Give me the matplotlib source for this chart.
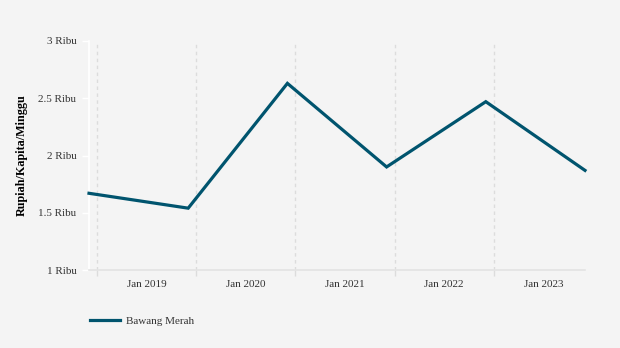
import matplotlib
matplotlib.use("Agg")
import matplotlib.pyplot as plt
from matplotlib.lines import Line2D

# Data
periods = [0, 1, 2, 3, 4, 5]
values = [1.67, 1.54, 2.63, 1.90, 2.47, 1.87]
series_name = "Bawang Merah"
x_labels = ["Jan 2019", "Jan 2020", "Jan 2021", "Jan 2022", "Jan 2023"]
y_ticks = [1, 1.5, 2, 2.5, 3]
y_tick_labels = ["1 Ribu", "1.5 Ribu", "2 Ribu", "2.5 Ribu", "3 Ribu"]
y_title = "Rupiah/Kapita/Minggu"

bg = "#f4f4f4"
line_color = "#00546e"
text_color = "#333333"
grid_color = "#dcdcdc"

plt.rcParams['font.family'] = ['Liberation Serif', 'DejaVu Serif']

fig = plt.figure(figsize=(6.2, 3.48), dpi=100, facecolor=bg)
ax = fig.add_axes([89/620, (348-270)/348, (585-89)/620, (270-41)/348])
ax.set_facecolor(bg)

ax.plot(periods, values, color=line_color, lw=2.3, solid_joinstyle='miter', zorder=3, clip_on=False)

ax.set_xlim(0, 5)
ax.set_ylim(1, 3)

# vertical dashed gridlines (tick positions)
grid_pos = [i + 0.08 for i in range(5)]
for g in grid_pos:
    ax.axvline(g, color=grid_color, lw=1, ls=(0, (2.5, 2.5)), zorder=1)
ax.set_xticks(grid_pos)
ax.set_xticklabels([])
ax.tick_params(axis='x', which='major', length=4, color=grid_color, width=1)
# labels between gridlines
ax.set_xticks([i + 0.58 for i in range(5)], minor=True)
ax.set_xticklabels(x_labels, minor=True)
ax.tick_params(axis='x', which='minor', length=0, pad=7, labelsize=8, labelcolor=text_color)

ax.set_yticks(y_ticks)
ax.set_yticklabels(y_tick_labels)
ax.tick_params(axis='y', length=5, color='white', width=1, pad=4, labelsize=8, labelcolor=text_color)

for s in ['top', 'right']:
    ax.spines[s].set_visible(False)
ax.spines['left'].set_color('white')
ax.spines['left'].set_linewidth(1.2)
ax.spines['bottom'].set_color('#e3e3e3')
ax.spines['bottom'].set_linewidth(1.2)

fig.text(22/620, 1 - 155/348, y_title, rotation=90, ha='center', va='center',
         fontsize=8.7, fontweight='bold', color='black')

# legend
fig.add_artist(Line2D([90/620, 120/620], [1 - 320/348, 1 - 320/348], color=line_color, lw=2.3))
fig.text(126/620, 1 - 321/348, series_name, ha='left', va='center', fontsize=8, color=text_color)

fig.savefig("out.png", dpi=100, facecolor=bg)
